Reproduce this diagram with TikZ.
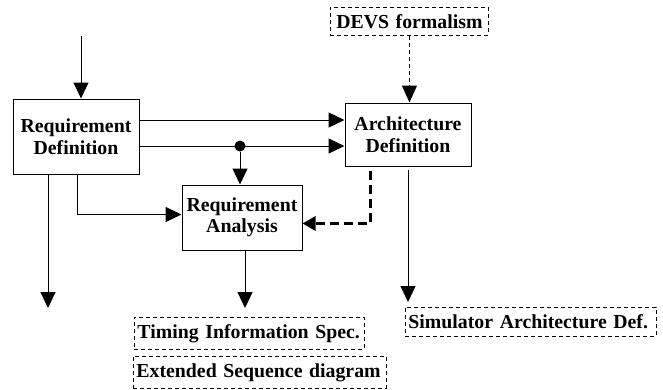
\documentclass[tikz,border=0pt]{standalone}
\usepackage{fontspec}
\setmainfont{Liberation Serif}
\usetikzlibrary{arrows.meta}
\begin{document}
\begin{tikzpicture}[x=1pt,y=-1pt,
  every node/.style={font=\fontsize{19.8}{21.5}\selectfont\bfseries},
  block/.style={draw,line width=1pt,align=center,inner sep=0pt},
  note/.style={draw,dashed,dash pattern=on 4pt off 3pt,line width=0.9pt,inner xsep=3pt,inner ysep=0pt,align=left},
  arr/.style={line width=1pt,-{Triangle[length=16pt,width=15pt]}},
  dotted arr/.style={line width=1pt,dash pattern=on 4pt off 3pt,-{Triangle[length=17pt,width=15pt]}},
  fb/.style={line width=3pt,dash pattern=on 9pt off 5pt,-{Triangle[length=13pt,width=14pt]}},
  junction/.style={circle,fill,inner sep=0pt,minimum size=11pt}]
\useasboundingbox (0,0) rectangle (663,389);

% process blocks
\node[block,minimum width=126pt,minimum height=75pt] (RD) at (76,136.5) {Requirement\\Definition};
\node[block,minimum width=126pt,minimum height=63pt] (AD) at (408,134.5) {Architecture\\Definition};
\node[block,minimum width=120pt,minimum height=65pt] (RA) at (242,217.5) {Requirement\\Analysis};

% documents and inputs
\node[note,anchor=north west,minimum width=158pt,minimum height=28pt,text width=152pt,align=center] (DEVS) at (330,7) {DEVS formalism};
\node[note,anchor=north west,minimum width=230pt,minimum height=32pt,text width=224pt] (TIS) at (134,317) {Timing Information Spec.};
\node[note,anchor=north west,minimum width=253pt,minimum height=32pt,text width=247pt] (ESD) at (133,356) {Extended Sequence diagram};
\node[note,anchor=north west,minimum width=251pt,minimum height=29pt,text width=245pt] (SAD) at (405,307) {Simulator Architecture Def.};

% free ends
\coordinate (in0) at (81,36);
\coordinate (out1) at (48,308);
\node[junction] (J) at (240,146) {};

% connectors
\draw[arr] (in0) -- (in0 |- RD.north);
\draw[arr] (RD.east |- 0,120) -- (AD.west |- 0,120);
\draw[arr] (RD.east |- J) -- (AD.west |- J);
\draw[arr] (J) -- (J |- RA.north);
\draw[arr] (out1 |- RD.south) -- (out1);
\draw[arr] ([xshift=1pt]RD.south) |- ([yshift=3pt]RA.west);
\draw[arr,shorten >=9pt] ([xshift=3pt]RA.south) -- ([xshift=3pt]RA.south |- TIS.north);
\draw[arr,shorten <=3pt,shorten >=5pt] (AD.south) -- (AD.south |- SAD.north);
\draw[dotted arr] (DEVS.south) -- (DEVS.south |- AD.north);
\draw[fb,shorten <=4pt] ([xshift=-38pt]AD.south) |- ([yshift=-6pt]RA.east);
\end{tikzpicture}
\end{document}
